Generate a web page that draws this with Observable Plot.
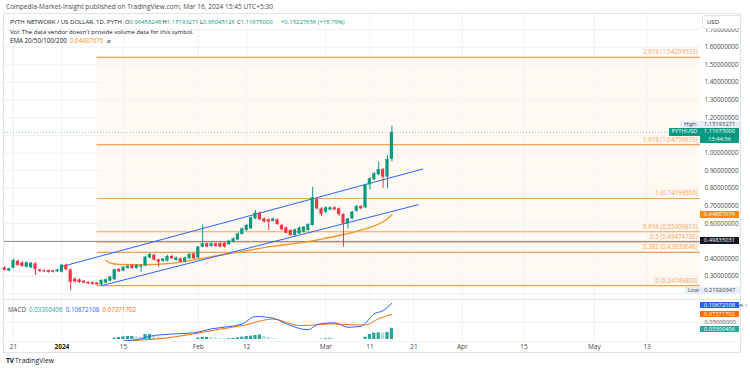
<!DOCTYPE html>
<html><head><meta charset="utf-8">
<script src="https://cdn.jsdelivr.net/npm/d3@7"></script>
<script src="https://cdn.jsdelivr.net/npm/@observablehq/plot@0.6"></script>
<style>
body{margin:0;background:#fff;}
#wrap{position:relative;width:750px;height:372px;overflow:hidden;font-family:"Open Sans",sans-serif;color:#131722;background:#fff;}
.t{position:absolute;white-space:nowrap;font-size:6.2px;line-height:8px;}
.box{position:absolute;white-space:nowrap;font-size:5.8px;text-align:center;color:#fff;overflow:hidden;}
svg{position:absolute;left:0;}
</style></head><body><div id="wrap"></div>
<script>
// ---------------- data ----------------
const firstDay = "2023-12-19", lastDay = "2024-03-17";
const open  = [0.348,0.330,0.347,0.386,0.377,0.352,0.349,0.371,0.337,0.333,0.333,0.332,0.326,0.324,0.364,0.337,0.285,0.281,0.273,0.267,0.265,0.262,0.252,0.262,0.273,0.281,0.339,0.330,0.345,0.362,0.345,0.352,0.360,0.405,0.420,0.394,0.386,0.386,0.413,0.390,0.400,0.381,0.400,0.428,0.405,0.466,0.485,0.470,0.485,0.485,0.488,0.481,0.494,0.507,0.538,0.560,0.570,0.626,0.659,0.626,0.621,0.613,0.621,0.589,0.575,0.560,0.532,0.541,0.551,0.560,0.589,0.736,0.683,0.664,0.677,0.689,0.683,0.651,0.598,0.626,0.670,0.696,0.689,0.819,0.848,0.876,0.906,0.863,0.96458248];
const high  = [0.356,0.346,0.398,0.392,0.384,0.382,0.379,0.378,0.341,0.337,0.336,0.335,0.340,0.368,0.370,0.342,0.291,0.285,0.277,0.270,0.268,0.265,0.280,0.285,0.300,0.342,0.345,0.355,0.362,0.366,0.366,0.364,0.414,0.430,0.425,0.398,0.402,0.418,0.418,0.410,0.404,0.410,0.430,0.432,0.470,0.592,0.490,0.490,0.490,0.490,0.493,0.505,0.518,0.546,0.575,0.594,0.637,0.674,0.665,0.632,0.626,0.630,0.626,0.594,0.580,0.565,0.568,0.580,0.584,0.598,0.806,0.746,0.690,0.694,0.694,0.695,0.688,0.656,0.630,0.668,0.702,0.702,0.823,0.860,0.890,0.948,0.912,0.985,1.15193271];
const low   = [0.330,0.326,0.343,0.358,0.352,0.348,0.345,0.305,0.323,0.322,0.318,0.320,0.322,0.320,0.333,0.2192,0.262,0.260,0.258,0.254,0.250,0.248,0.2475,0.258,0.270,0.278,0.322,0.326,0.340,0.340,0.341,0.324,0.356,0.400,0.388,0.352,0.380,0.382,0.396,0.386,0.376,0.377,0.396,0.396,0.401,0.462,0.462,0.465,0.465,0.462,0.460,0.476,0.490,0.503,0.534,0.556,0.565,0.621,0.616,0.603,0.560,0.608,0.589,0.560,0.540,0.527,0.528,0.537,0.547,0.556,0.585,0.678,0.640,0.655,0.672,0.672,0.640,0.466,0.570,0.620,0.665,0.678,0.684,0.790,0.842,0.870,0.800,0.797,0.95045126];
const close = [0.334,0.343,0.390,0.362,0.356,0.377,0.375,0.339,0.328,0.326,0.322,0.324,0.337,0.364,0.337,0.267,0.268,0.265,0.262,0.258,0.254,0.252,0.277,0.281,0.296,0.337,0.326,0.352,0.358,0.345,0.362,0.360,0.409,0.424,0.392,0.381,0.398,0.413,0.400,0.405,0.381,0.405,0.424,0.400,0.466,0.485,0.466,0.485,0.470,0.466,0.466,0.500,0.513,0.541,0.570,0.589,0.632,0.659,0.621,0.608,0.608,0.626,0.594,0.564,0.545,0.532,0.564,0.575,0.579,0.594,0.746,0.683,0.651,0.689,0.689,0.677,0.651,0.598,0.626,0.664,0.696,0.683,0.819,0.853,0.882,0.906,0.863,0.963,1.11675];

const emaDates = ["2024-01-11","2024-01-12","2024-01-14","2024-01-20","2024-01-25","2024-01-30","2024-02-04","2024-02-09","2024-02-14","2024-02-19","2024-02-24","2024-02-29","2024-03-04","2024-03-08","2024-03-11","2024-03-14","2024-03-16"];
const emaVals  = [0.390,0.375,0.368,0.366,0.372,0.390,0.412,0.433,0.455,0.474,0.490,0.512,0.532,0.556,0.578,0.610,0.64887676];

const upperDates = ["2024-01-01","2024-03-23"], upperVals = [0.356,0.909];
const lowerDates = ["2024-01-10","2024-03-22"], lowerVals = [0.2475,0.7066];

const fibStart = "2024-01-09";
const fibRatios = ["0","0.382","0.5","0.618","1","1.618","2.618"];
const fibVals   = [0.247498,0.43639646,0.4947473,0.55309813,0.7419966,1.04759673,1.54209533];

const hLine = 0.49835031;
const lastPrice = 1.11675, hiVal = 1.15193271, loVal = 0.21920947, emaLast = 0.64887676;

const priceTicks = [0.3,0.4,0.6,0.7,0.8,0.9,1.0,1.2,1.3,1.4,1.5,1.6,1.7];
const priceGrid  = [0.2,0.3,0.4,0.5,0.6,0.7,0.8,0.9,1.0,1.1,1.2,1.3,1.4,1.5,1.6,1.7];

const xTickDates  = ["2023-12-21","2024-01-01","2024-01-15","2024-02-01","2024-02-12","2024-03-01","2024-03-11","2024-03-21","2024-04-01","2024-04-15","2024-05-01","2024-05-13"];
const xTickLabels = ["21","2024","15","Feb","12","Mar","11","21","Apr","15","May","13"];

const macdDates = ["2024-01-15","2024-01-19","2024-01-21","2024-01-27","2024-01-31","2024-02-04","2024-02-08","2024-02-11","2024-02-14","2024-02-18","2024-02-21","2024-02-26","2024-02-28","2024-03-03","2024-03-06","2024-03-09","2024-03-12","2024-03-14","2024-03-16"];
const macdVals  = [-0.004,0.002,0.0097,0.0167,0.0196,0.0314,0.038,0.046,0.0676,0.0627,0.046,0.0284,0.044,0.049,0.036,0.039,0.0755,0.085,0.10672108];
const sigDates  = ["2024-01-17","2024-01-23","2024-01-31","2024-02-05","2024-02-11","2024-02-18","2024-02-24","2024-02-28","2024-03-02","2024-03-07","2024-03-10","2024-03-13","2024-03-16"];
const sigVals   = [-0.003,0.002,0.0167,0.0284,0.041,0.060,0.041,0.043,0.046,0.043,0.043,0.061,0.07371702];
const histDates = ["2024-01-13","2024-01-14","2024-01-15","2024-01-16","2024-01-17","2024-01-18","2024-01-19","2024-01-20","2024-01-21","2024-01-22","2024-01-23","2024-01-24","2024-01-25","2024-01-26","2024-02-01","2024-02-02","2024-02-03","2024-02-04","2024-02-05","2024-02-06","2024-02-07","2024-02-08","2024-02-09","2024-02-10","2024-02-11","2024-02-12","2024-02-13","2024-02-14","2024-02-15","2024-02-16","2024-02-17","2024-02-18","2024-02-19","2024-02-29","2024-03-01","2024-03-02","2024-03-03","2024-03-10","2024-03-11","2024-03-12","2024-03-13","2024-03-14","2024-03-15","2024-03-16"];
const histVals  = [0.0039,0.0059,0.0078,0.0088,0.0090,0.0075,0.0065,0.0147,0.0150,0.0098,0.0069,0.0039,0.0020,0.0010,0.0040,0.0060,0.0062,0.0059,0.0045,0.0030,0.0020,0.0022,0.0030,0.0050,0.0069,0.0088,0.0098,0.0118,0.0137,0.0090,0.0059,0.0030,0.0010,0.0010,0.0020,0.0022,0.0015,0.0069,0.0147,0.0186,0.0196,0.0186,0.0206,0.03300406];

// ---------------- build ----------------
const DAY = 864e5;
const GREEN = "#089981", RED = "#f23645", FIB = "#f6a256", BLUE = "#2962ff";
const dates = d3.utcDay.range(new Date(firstDay), new Date(lastDay));
const candles = dates.map((d,i) => ({date:d, open:open[i], high:high[i], low:low[i], close:close[i]}));
const col = d => d.close >= d.open ? GREEN : RED;
const pts = (ds, vs) => ds.map((d,i) => ({date:new Date(d), value:vs[i]}));
const ema = pts(emaDates, emaVals), upper = pts(upperDates, upperVals), lower = pts(lowerDates, lowerVals);
const macd = pts(macdDates, macdVals), sig = pts(sigDates, sigVals);
const hist = pts(histDates, histVals).map((d,i,a) => ({...d, fill: (i>0 && +a[i-1].date === +d.date - DAY && d.value < a[i-1].value) ? "#b2dfdb" : "#26a69a"}));
const fibs = fibRatios.map((r,i) => ({label:`${r} (${fibVals[i].toFixed(8)})`, value:fibVals[i]}));
const xTicks = xTickDates.map(d => new Date(d));
const xDomain = [new Date("2023-12-18T22:54:30Z"), new Date("2024-05-25T03:16:00Z")];
const fs = new Date(fibStart);

const main = Plot.plot({
  width:750, height:299, marginLeft:4, marginRight:50, marginTop:14, marginBottom:1,
  x:{type:"utc", domain:xDomain, axis:null},
  y:{domain:[0.1746,1.7855], axis:null},
  style:{fontFamily:"Open Sans", fontSize:"6px", background:"transparent", overflow:"visible"},
  marks:[
    Plot.gridX(xTicks, {stroke:"#eef1f6", strokeOpacity:1}),
    Plot.gridY(priceGrid, {stroke:"#eef1f6", strokeOpacity:1}),
    Plot.rect([0], {x1:() => fs, x2:() => xDomain[1], y1:() => fibVals[0], y2:() => fibVals[6], fill:"#fff4ea", fillOpacity:0.55}),
    Plot.ruleY(fibVals, {x1:() => fs, x2:() => xDomain[1], stroke:FIB, strokeWidth:1.1}),
    Plot.text(fibs, {y:"value", text:"label", frameAnchor:"right", textAnchor:"end", dx:-3, dy:-5, fill:FIB, fontSize:6.2}),
    Plot.ruleY([hLine], {stroke:"#8c8c8c", strokeWidth:1}),
    Plot.ruleY([lastPrice], {stroke:GREEN, strokeOpacity:0.45, strokeDasharray:"1,2"}),
    Plot.line(ema, {x:"date", y:"value", stroke:"#f7931e", strokeWidth:1.3, curve:"monotone-x"}),
    Plot.line(upper, {x:"date", y:"value", stroke:BLUE, strokeWidth:1}),
    Plot.line(lower, {x:"date", y:"value", stroke:BLUE, strokeWidth:1}),
    Plot.ruleX(candles, {x:"date", y1:"low", y2:"high", stroke:col, strokeWidth:1}),
    Plot.rect(candles, {x1:d => new Date(+d.date - 0.36*DAY), x2:d => new Date(+d.date + 0.36*DAY), y1:"open", y2:"close", fill:col}),
    Plot.axisY(priceTicks, {anchor:"right", tickSize:0, tickPadding:4, tickFormat:d3.format(".8f"), fill:"#4a4a4a", fontSize:6.3})
  ]
});
main.style.top = "0px";

const macdPlot = Plot.plot({
  width:750, height:55, marginLeft:4, marginRight:50, marginTop:0, marginBottom:13,
  x:{type:"utc", domain:xDomain, axis:null},
  y:{domain:[-0.00588,0.1176], axis:null},
  style:{fontFamily:"Open Sans", fontSize:"6px", background:"transparent", overflow:"visible"},
  marks:[
    Plot.gridX(xTicks, {stroke:"#eef1f6", strokeOpacity:1}),
    Plot.gridY([0.05], {stroke:"#eef1f6", strokeOpacity:1}),
    Plot.rect(hist, {x1:d => new Date(+d.date - 0.36*DAY), x2:d => new Date(+d.date + 0.36*DAY), y1:() => 0, y2:"value", fill:"fill"}),
    Plot.line(sig, {x:"date", y:"value", stroke:"#ff6d00", strokeWidth:1, curve:"monotone-x", clip:true}),
    Plot.line(macd, {x:"date", y:"value", stroke:BLUE, strokeWidth:1, curve:"monotone-x", clip:true}),
    Plot.axisY([0.05], {anchor:"right", tickSize:0, tickPadding:4, tickFormat:d3.format(".8f"), fill:"#4a4a4a", fontSize:5.8}),
    Plot.axisX(xTicks.filter((d,i) => xTickLabels[i] !== "2024"), {tickSize:0, tickPadding:3, fill:"#4a4a4a", fontSize:6.5,
      tickFormat:d => xTickLabels[xTicks.findIndex(t => +t === +d)]}),
    Plot.axisX([xTicks[1]], {tickSize:0, tickPadding:3, fill:"#131722", fontSize:6.5, fontWeight:"bold", tickFormat:() => "2024"})
  ]
});
macdPlot.style.top = "299px";

const wrap = document.getElementById("wrap");
function el(tag, css, html, cls) { const e = document.createElement(tag); if (cls) e.className = cls; e.style.cssText = css; e.innerHTML = html; wrap.appendChild(e); return e; }

// frame & separators
el("div", "position:absolute;left:3px;top:13px;width:738px;height:340px;border:1px solid #e0e3eb;box-sizing:border-box;", "");
wrap.appendChild(main);
wrap.appendChild(macdPlot);
el("div", "position:absolute;left:3px;top:299px;width:738px;height:1px;background:#e0e3eb;", "");
el("div", "position:absolute;left:3px;top:341px;width:738px;height:1px;background:#eef1f6;", "");

// header texts
el("div", "left:6px;top:3px;color:#4a4a4a;font-size:6.6px;", "Coinpedia-Market-Insight published on TradingView.com, Mar 16, 2024 15:45 UTC+5:30", "t");
el("div", "left:10px;top:18px;color:#131722;font-size:6.05px;", "PYTH NETWORK / US DOLLAR, 1D, PYTH", "t");
const ohlcL = ["O","H","L","C"], ohlcV = ["0.96458248","1.15193271","0.95045126","1.11675000"], ohlcX = [125,162.5,200,237];
ohlcL.forEach((l,i) => el("div", `left:${ohlcX[i]}px;top:18px;color:#131722;font-size:5.9px;`, `${l}<span style="color:${GREEN}">${ohlcV[i]}</span>`, "t"));
el("div", `left:281px;top:18px;color:${GREEN};font-size:5.9px;`, "+0.15227656 (+15.79%)", "t");
el("div", "left:10px;top:27.5px;color:#131722;font-size:6.0px;", "Vol: The data vendor doesn't provide volume data for this symbol.", "t");
el("div", "left:10px;top:36.5px;color:#131722;", `EMA 20/50/100/200&nbsp;&nbsp;<span style="color:#f7931e">0.64887676</span>&nbsp;&nbsp;⌀`, "t");
el("div", "left:8px;top:306px;color:#4a4a4a;",
  `MACD&nbsp;&nbsp;<span style="color:#26a69a">0.03300406</span>&nbsp;&nbsp;<span style="color:${BLUE}">0.10672108</span>&nbsp;&nbsp;<span style="color:#ff6d00">0.07371702</span>`, "t");
el("div", "left:6px;top:357px;font-size:6.8px;color:#131722;", `<b style="letter-spacing:-0.5px">TV</b>&nbsp;TradingView`, "t");

// price-axis labels
const ys = main.scale("y"), ym = macdPlot.scale("y");
el("div", "position:absolute;left:702px;top:15px;width:39px;height:14px;border:1px solid #e0e3eb;box-sizing:border-box;background:#fff;border-radius:2px;font-size:6px;line-height:12px;padding-left:4px;color:#131722;", "USD");
function box(cy, h, bg, color, html, left, width, extra) {
  return el("div", `left:${left}px;top:${cy - h/2}px;width:${width}px;height:${h}px;line-height:${h}px;background:${bg};color:${color};${extra||""}`, html, "box");
}
const yHi = ys.apply(hiVal) - 0.7;
box(yHi, 7, "#e6edf9", "#4a4a4a", `<span style="position:absolute;left:4px">High</span><span style="position:absolute;left:24px">1.15193271</span>`, 680, 60, "text-align:left;");
const yP = ys.apply(lastPrice) + 0.3;
box(yP, 7.5, GREEN, "#fff", "PYTHUSD", 669, 31);
el("div", `left:700px;top:${yP - 3.75}px;width:39px;height:15px;background:${GREEN};color:#fff;line-height:7.5px;`, "1.11675000<br>13:44:36", "box");
box(ys.apply(emaLast), 7, "#fb8c00", "#fff", "0.64887676", 700, 39);
box(ys.apply(hLine), 7, "#131722", "#fff", "0.49835031", 700, 39);
box(ys.apply(loVal), 7, "#e6edf9", "#4a4a4a", `<span style="position:absolute;left:3px">Low</span><span style="position:absolute;left:19px">0.21920947</span>`, 685, 55, "text-align:left;");
const off = 299;
box(off + ym.apply(0.10672108) + 2.3, 6, BLUE, "#fff", "0.10672108", 700, 39);
box(off + ym.apply(0.07371702) - 0.3, 6, "#ff6d00", "#fff", "0.07371702", 700, 39);
box(off + ym.apply(0.03300406) + 1.2, 6, "#26a69a", "#fff", "0.03300406", 700, 39);
</script></body></html>
